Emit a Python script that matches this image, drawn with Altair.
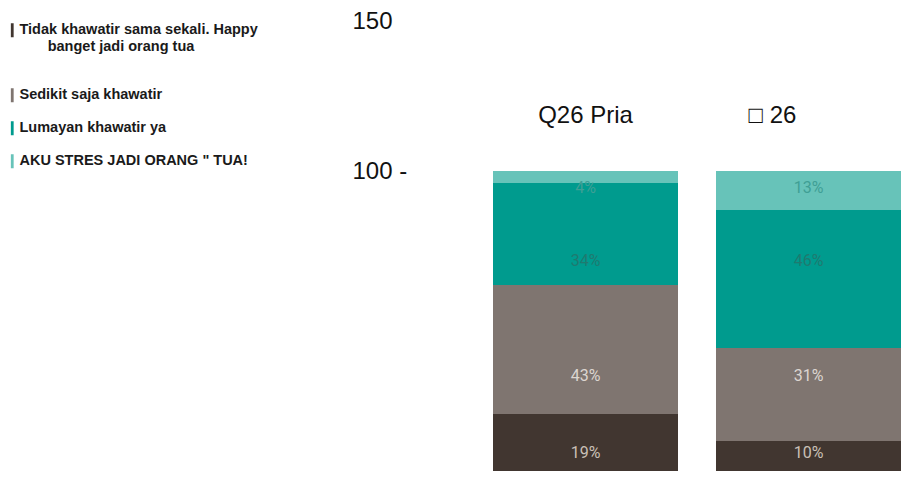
import json
import altair as alt
import pandas as pd

# ---- data ----
categories = ["Q26 Pria", "□ 26"]
segments = [
    "Tidak khawatir sama sekali. Happy banget jadi orang tua",
    "Sedikit saja khawatir",
    "Lumayan khawatir ya",
    'AKU STRES JADI ORANG " TUA!',
]
values_pria = [19, 43, 34, 4]
values_other = [10, 31, 46, 13]
axis_values = [100, 150]

bar_colors = ["#413630", "#7f7570", "#009b8e", "#67c3b9"]
label_colors = ["#c9c0b7", "#dcd6d0", "#1f7a70", "#3f9f95"]

rows = []
for cat, vals in zip(categories, [values_pria, values_other]):
    for i, (seg, v) in enumerate(zip(segments, vals)):
        rows.append({"category": cat, "segment": seg, "value": v, "idx": i, "label": f"{v}%"})
df = pd.DataFrame(rows)

NB = "\u00a0"
ZW = "\u200b"
wrap_lines = ["Tidak khawatir sama sekali. Happy", ZW + NB * 7 + "banget jadi orang tua", ZW + NB + ZW]
label_expr = f"datum.label == '{segments[0]}' ? {json.dumps(wrap_lines)} : datum.label"

x_enc = alt.X(
    "category:N",
    sort=categories,
    scale=alt.Scale(paddingInner=0.1704, paddingOuter=0),
    axis=None,
)

bars = alt.Chart(df).mark_bar().encode(
    x=x_enc,
    y=alt.Y(
        "value:Q",
        stack="zero",
        scale=alt.Scale(domain=[0, 150], nice=False),
        axis=alt.Axis(
            values=axis_values,
            labelExpr="datum.value == 100 ? '100 -' : datum.label",
            labelAlign="left",
            labelBaseline="middle",
            labelPadding=141,
            ticks=False,
            tickSize=0,
            domain=False,
            grid=False,
            title=None,
            labelFont="Liberation Sans",
            labelFontSize=24,
            labelColor="#111111",
        ),
    ),
    order=alt.Order("idx:Q", sort="ascending"),
    color=alt.Color(
        "segment:N",
        sort=segments,
        scale=alt.Scale(domain=segments, range=bar_colors),
        legend=alt.Legend(
            orient="none",
            legendX=-488,
            legendY=2,
            title=None,
            padding=0,
            symbolType="M-0.2,-1H0.2V1H-0.2Z",
            symbolSize=196,
            symbolStrokeWidth=0,
            symbolOpacity=1,
            labelFont="Liberation Sans",
            labelFontSize=14.5,
            labelFontWeight="bold",
            labelColor="#1a1a1a",
            labelLimit=0,
            labelOffset=0,
            rowPadding=17,
            labelExpr=label_expr,
        ),
    ),
)

labels = (
    alt.Chart(df)
    .transform_stack(stack="value", groupby=["category"], as_=["y0", "y1"], sort=[alt.SortField("idx")])
    .transform_calculate(mid="(datum.y0 + datum.y1) / 2")
    .transform_joinaggregate(ymid="mean(mid)", groupby=["segment"])
    .mark_text(font="Roboto", fontSize=16, dy=4)
    .encode(
        x=x_enc,
        y=alt.Y("ymid:Q"),
        text="label:N",
        color=alt.Color(
            "segment:N",
            scale=alt.Scale(domain=segments, range=label_colors),
            legend=None,
        ),
    )
)

title_df = pd.DataFrame({"category": categories})
title_style = dict(font="Liberation Sans", fontSize=24, color="#111111", baseline="middle")
title1 = (
    alt.Chart(title_df)
    .transform_filter(alt.datum.category == categories[0])
    .mark_text(**title_style)
    .encode(x=x_enc, y=alt.value(95), text="category:N")
)
title2 = (
    alt.Chart(title_df)
    .transform_filter(alt.datum.category == categories[1])
    .mark_text(dx=-36, **title_style)
    .encode(x=x_enc, y=alt.value(95), text="category:N")
)

chart = (
    alt.layer(bars, labels, title1, title2)
    .resolve_scale(color="independent")
    .properties(
        width=408,
        height=450,
        autosize=alt.AutoSizeParams(type="none"),
        padding={"left": 485, "top": 13, "right": 0, "bottom": 0},
    )
    .configure_view(stroke=None)
)

chart.save("out.html", embed_options={"renderer": "svg", "actions": False})
